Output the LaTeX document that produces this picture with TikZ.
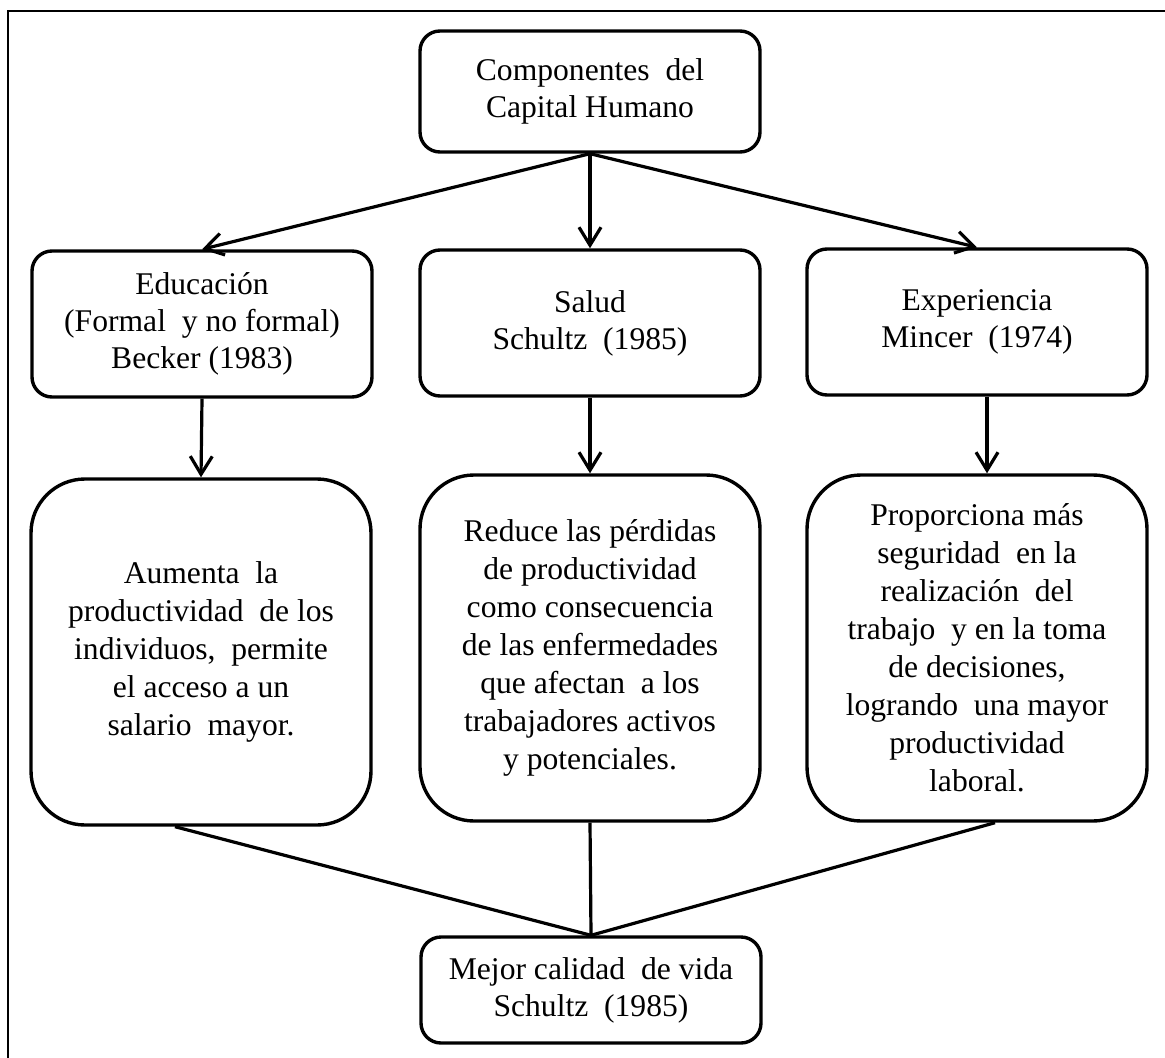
\documentclass[tikz,border=0pt]{standalone}
\usepackage{fontspec}
\setmainfont{Liberation Serif}
\usetikzlibrary{arrows.meta}
\usetikzlibrary{positioning}

\begin{document}
\begin{tikzpicture}[x=0.5pt,y=-0.5pt]
	\useasboundingbox (0,0) rectangle (1165,1058);
	%\draw[help lines] (0,0) grid (1165,1058);

	\tikzstyle{sbox} = [draw,line width=1.7pt,rounded corners=10pt,align=center,minimum width=170pt,font=\fontsize{15.8}{18.5}\selectfont]
	\tikzstyle{tbox} = [sbox,minimum height=73pt]
	\tikzstyle{lbox} = [sbox,rounded corners=27pt,minimum height=173pt,font=\fontsize{15.8}{19}\selectfont]
	\tikzstyle{vedge} = [-{Straight Barb[length=9pt,width=11pt]},line width=1.6pt]
	\tikzstyle{ledge} = [line width=1.6pt]

	% marco
	\draw[line width=1.2pt] (1165,11) -- (8,11) -- (8,1058);

	\node[sbox,minimum height=60.5pt] (comp) at (590,91.5) {Componentes\ \ del\\Capital Humano};

	\node[tbox] (edu) at (202,324) {Educación\\(Formal\ \ y no formal)\\Becker (1983)};
	\node[tbox] (sal) at (590,323) {Salud\\Schultz\ \ (1985)};
	\node[tbox] (exp) at (977,322) {Experiencia\\Mincer\ \ (1974)};

	\node[lbox] (aum) at (201,652) {Aumenta\ \ la\\productividad\ \ de los\\individuos,\ \ permite\\el acceso a un\\salario\ \ mayor.};
	\node[lbox] (red) at (590,648) {Reduce las pérdidas\\de productividad\\como consecuencia\\de las enfermedades\\que afectan\ \ a los\\trabajadores activos\\y potenciales.};
	\node[lbox] (pro) at (977,648) {Proporciona más\\seguridad\ \ en la\\realización\ \ del\\trabajo\ \ y en la toma\\de decisiones,\\logrando\ \ una mayor\\productividad\\laboral.};

	\node[sbox,minimum height=53pt] (mej) at (591,990) {Mejor calidad\ \ de vida\\Schultz\ \ (1985)};

	\draw (comp.south) edge [vedge] (edu.north);
	\draw (comp.south) edge [vedge] (sal.north);
	\draw (comp.south) edge [vedge] (exp.north);

	\draw (edu.south) edge [vedge] (aum.north);
	\draw (sal.south) edge [vedge] (red.north);
	\draw ([xshift=5pt]exp.south) edge [vedge] ([xshift=5pt]pro.north);

	\draw[ledge] ([xshift=-13pt]aum.south) -- (mej.north);
	\draw[ledge] (red.south) -- (mej.north);
	\draw[ledge] ([xshift=9pt]pro.south) -- (mej.north);

\end{tikzpicture}
\end{document}
